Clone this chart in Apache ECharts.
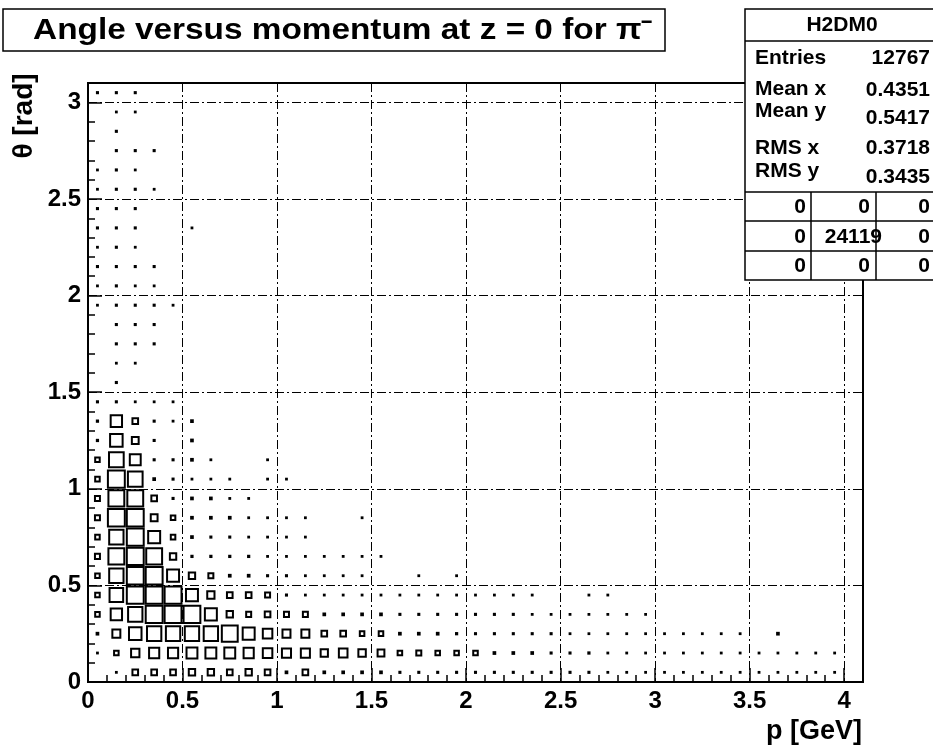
<!DOCTYPE html>
<html>
<head>
<meta charset="utf-8">
<script src="https://cdn.jsdelivr.net/npm/echarts@6/dist/echarts.min.js"></script>
<style>
  html, body { margin: 0; background: #fff; }
  #main { width: 933px; height: 756px; }
</style>
</head>
<body>
<div id="main"></div>
<script>
// bins of 0.1 in p (x) and 0.1 in theta (y)
const binW = 0.1;
const binH = 0.1;
const pMax = 4.1;
const thetaMax = 3.1;

// bin contents, one row per theta bin (theta = 0.05, 0.15, ...), one entry per p bin
const r0 = [0,25,62,62,62, 70,70,62,70,62, 38,62,38,38,38, 38,30,30,30,30, 30,30,30,30,30, 30,30,18,18,18, 18,18,12,18,18, 18,18,18,18,18];
const r1 = [25,50,92,112,112, 120,120,120,112,105, 100,100,80,95,82, 75,50,55,50,50, 50,38,38,38,30, 30,32,15,15,15, 12,12,12,12,12, 12,12,18,18,18];
const r2 = [38,88,138,158,158, 158,158,175,132,105, 88,88,62,62,50, 50,38,38,38,32, 30,30,30,30,30, 20,20,15,15,15, 12,12,12,12,12, 0,38];
const r3 = [50,125,158,200,195, 185,132,70,55,62, 55,55,38,38,38, 38,30,30,30,30, 30,30,30,20,20, 20,20,20,20,20];
const r4 = [50,150,195,238,238, 132,80,62,62,55, 30,18,18,18,15, 15,15,20,15,20, 20,20,15,15,0, 0,15,15];
const r5 = [50,158,220,250,132, 70,55,38,38,30, 30,15,15,15,15, 0,0,20,0,20];
const r6 = [55,175,238,175,70, 32,32,32,32,20, 20,20,20,20,20, 20];
const r7 = [50,158,250,132,50, 38,30,30,18,25, 15,15];
const r8 = [55,195,200,75,50, 38,38,38,18,15, 18,25,0,0,18];
const r9 = [55,175,175,62,30, 38,38,25,25];
const r10 = [50,200,162,38,30, 25,18,18,0,18, 15];
const r11 = [50,162,120,30,30, 38,25,0,0,18];
const r12 = [32,138,75,30,0, 38];
const r13 = [32,125,62,30,20, 38];
const r14 = [30,30,20,20,20];
const r15 = [0,30];
const r16 = [0,20,20];
const r17 = [0,30,30,30];
const r18 = [0,30,30,30];
const r19 = [20,30,30,30,20];
const r20 = [20,30,20,20];
const r21 = [30,30,30,30];
const r22 = [20,30,20];
const r23 = [30,30,30,0,0,15];
const r24 = [30,30,30];
const r25 = [20,30,30,20];
const r26 = [20,30,20];
const r27 = [0,30,30,30];
const r28 = [0,30];
const r29 = [0,20,20];
const r30 = [30,30,30];
const rows = [r0,r1,r2,r3,r4,r5,r6,r7,r8,r9,r10,r11,r12,r13,r14,r15,r16,r17,r18,r19,r20,r21,r22,r23,r24,r25,r26,r27,r28,r29,r30];

// stats box
const statNames = ['Entries', 'Mean x', 'Mean y', 'RMS x', 'RMS y'];
const statValues = ['12767', '0.4351', '0.5417', '0.3718', '0.3435'];
const overflowRows = [['0','0','0'], ['0','24119','0'], ['0','0','0']];

const boxes = [];
rows.forEach((row, j) => {
  row.forEach((c, i) => {
    if (c > 0) boxes.push([(i + 0.5) * binW, (j + 0.5) * binH, c]);
  });
});
const zMax = Math.max(...boxes.map(b => b[2]));

const font = '"Liberation Sans", Arial, sans-serif';
const chart = echarts.init(document.getElementById('main'));

function renderBox(params, api) {
  const c = api.coord([api.value(0), api.value(1)]);
  const s = api.size([binW, binH]);
  const f = api.value(2) / zMax;
  const w = s[0] * f;
  const h = s[1] * f;
  if (w < 3.5) {
    // tiny contents show up as solid dots
    const d = Math.max(w + 0.8, 2.8);
    const e = Math.max(h + 0.8, 2.8);
    return { type: 'rect', shape: { x: c[0] - d / 2, y: c[1] - e / 2, width: d, height: e },
      style: { fill: '#000' } };
  }
  const ow = Math.min(w * 1.2 + 2, s[0]);
  const oh = Math.min(h * 1.2 + 2, s[1]);
  const wi = ow - 2, hi = oh - 2;
  return { type: 'rect', shape: { x: c[0] - wi / 2, y: c[1] - hi / 2, width: wi, height: hi },
    style: { fill: 'none', stroke: '#000', lineWidth: 2 } };
}

const dashDot = [9, 3, 2, 3];
const lbl = { color: '#000', fontFamily: font, fontWeight: 'bold', fontSize: 24 };

const g = [];
const Z = 100;
// title box
g.push({ type: 'rect', z: Z, shape: { x: 3, y: 9, width: 662, height: 42 },
  style: { fill: '#fff', stroke: '#000', lineWidth: 1.5 } });
g.push({ type: 'text', z: Z, x: 343, y: 31, scaleX: 1.15, style: { text: 'Angle versus momentum at z = 0 for π⁻',
  fontFamily: font, fontWeight: 'bold', fontSize: 29, fill: '#000', align: 'center', verticalAlign: 'middle' } });
// axis titles
g.push({ type: 'text', z: Z, x: 862, y: 732, style: { text: 'p [GeV]', fontFamily: font, fontWeight: 'bold',
  fontSize: 27, fill: '#000', align: 'right', verticalAlign: 'middle' } });
g.push({ type: 'text', z: Z, x: 24, y: 116, rotation: Math.PI / 2, style: { text: 'θ [rad]', fontFamily: font,
  fontWeight: 'bold', fontSize: 28, fill: '#000', align: 'center', verticalAlign: 'middle' } });
// stats box
g.push({ type: 'rect', z: Z, shape: { x: 745, y: 9, width: 200, height: 271 },
  style: { fill: '#fff', stroke: '#000', lineWidth: 1.5 } });
[41, 192, 221, 251].forEach(y => g.push({ type: 'line', z: Z, shape: { x1: 745, y1: y, x2: 933, y2: y },
  style: { stroke: '#000', lineWidth: 1.5 } }));
[811, 876].forEach(x => g.push({ type: 'line', z: Z, shape: { x1: x, y1: 192, x2: x, y2: 280 },
  style: { stroke: '#000', lineWidth: 1.5 } }));
g.push({ type: 'text', z: Z, x: 842, y: 25, style: { text: 'H2DM0', fontFamily: font, fontWeight: 'bold',
  fontSize: 21, fill: '#000', align: 'center', verticalAlign: 'middle' } });
const nameY = [58, 89, 111, 148, 171];
const valY = [58, 90, 118, 148, 177];
statNames.forEach((n, k) => {
  g.push({ type: 'text', z: Z, x: 755, y: nameY[k], style: { text: n, fontFamily: font, fontWeight: 'bold',
    fontSize: 21, fill: '#000', align: 'left', verticalAlign: 'middle' } });
  g.push({ type: 'text', z: Z, x: 930, y: valY[k], style: { text: statValues[k], fontFamily: font, fontWeight: 'bold',
    fontSize: 21, fill: '#000', align: 'right', verticalAlign: 'middle' } });
});
const cellRight = [806, 870, 930];
const cellY = [207, 237, 266];
overflowRows.forEach((row, r) => {
  row.forEach((t, k) => {
    const xr = (t.length > 3) ? 882 : cellRight[k];
    g.push({ type: 'text', z: Z, x: xr, y: cellY[r], style: { text: t, fontFamily: font, fontWeight: 'bold',
      fontSize: 21, fill: '#000', align: 'right', verticalAlign: 'middle' } });
  });
});

chart.setOption({
  backgroundColor: '#fff',
  animation: false,
  grid: { left: 88, right: 70, top: 83, bottom: 74, show: true, borderColor: '#000', borderWidth: 2 },
  xAxis: [
    { type: 'value', min: 0, max: pMax, interval: 0.5, position: 'bottom',
      axisLine: { lineStyle: { color: '#000', width: 2 } },
      axisTick: { inside: true, length: 14, lineStyle: { color: '#000', width: 1.5 } },
      axisLabel: Object.assign({ margin: 7, showMaxLabel: false }, lbl),
      splitLine: { show: true, lineStyle: { color: '#000', width: 1, type: dashDot } } },
    { type: 'value', min: 0, max: pMax, interval: 0.1, position: 'bottom',
      axisLine: { show: false },
      axisTick: { inside: true, length: 7, lineStyle: { color: '#000', width: 1.5 } },
      axisLabel: { show: false }, splitLine: { show: false } }
  ],
  yAxis: [
    { type: 'value', min: 0, max: thetaMax, interval: 0.5, position: 'left',
      axisLine: { show: true, lineStyle: { color: '#000', width: 2 } },
      axisTick: { show: true, inside: true, length: 14, lineStyle: { color: '#000', width: 1.5 } },
      axisLabel: Object.assign({ margin: 7, showMaxLabel: false }, lbl),
      splitLine: { show: true, lineStyle: { color: '#000', width: 1, type: dashDot } } },
    { type: 'value', min: 0, max: thetaMax, interval: 0.1, position: 'left',
      axisLine: { show: false },
      axisTick: { show: true, inside: true, length: 7, lineStyle: { color: '#000', width: 1.5 } },
      axisLabel: { show: false }, splitLine: { show: false } }
  ],
  series: [{
    type: 'custom',
    xAxisIndex: 0,
    yAxisIndex: 0,
    renderItem: renderBox,
    data: boxes,
    clip: true
  }],
  graphic: g
});
</script>
</body>
</html>
